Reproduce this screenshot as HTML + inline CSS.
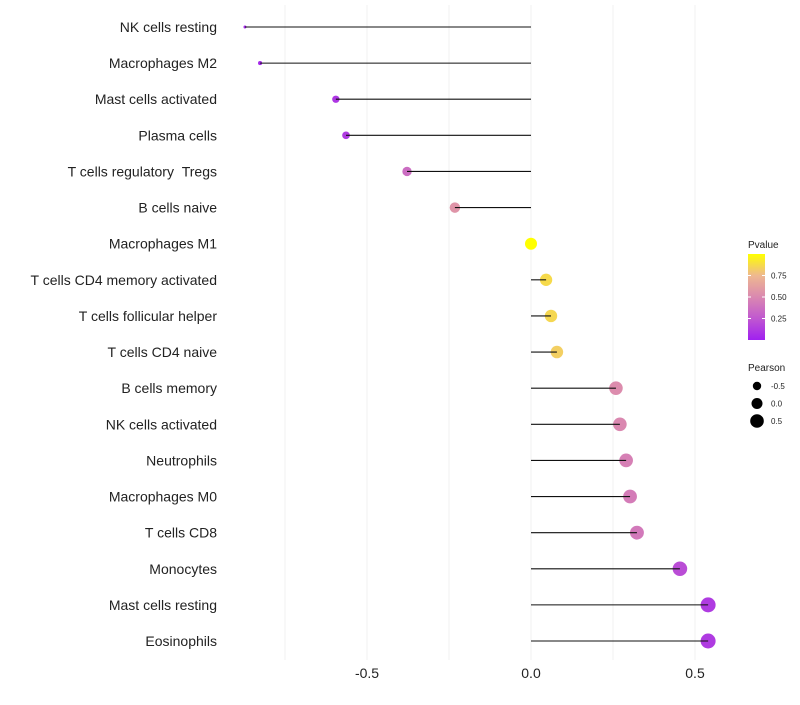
<!DOCTYPE html>
<html><head><meta charset="utf-8"><style>
body{margin:0;background:#fff;font-family:"Liberation Sans",sans-serif}
</style></head><body>
<svg id="c" width="800" height="700" xmlns="http://www.w3.org/2000/svg" font-family="Liberation Sans, sans-serif"></svg>
<script>
const categories=["NK cells resting","Macrophages M2","Mast cells activated","Plasma cells","T cells regulatory\u00a0\u00a0Tregs","B cells naive","Macrophages M1","T cells CD4 memory activated","T cells follicular helper","T cells CD4 naive","B cells memory","NK cells activated","Neutrophils","Macrophages M0","T cells CD8","Monocytes","Mast cells resting","Eosinophils"];
const pearson=[-0.872,-0.826,-0.595,-0.564,-0.378,-0.232,0.0,0.046,0.061,0.079,0.259,0.271,0.29,0.302,0.323,0.454,0.54,0.54];
const pvalue=[0.04,0.05,0.1,0.12,0.36,0.56,1.0,0.87,0.86,0.83,0.52,0.5,0.46,0.44,0.42,0.2,0.12,0.12];
const xTicks=[-0.5,0,0.5];
const xTickLabels=["-0.5","0.0","0.5"];
const gridVals=[-0.75,-0.5,-0.25,0,0.25,0.5];
const legendP=[0.25,0.5,0.75];
const legendSizes=[-0.5,0,0.5];
const legendSizeLabels=["-0.5","0.0","0.5"];
const NS="http://www.w3.org/2000/svg";
const svg=document.getElementById('c');
const xS=v=>531+v*328;
const yS=i=>27+i*(614/17);
const pMin=Math.min(...pearson),pMax=Math.max(...pearson);
const rS=v=>0.3+1.2*Math.sqrt(Math.max(1,1+35*(v-pMin)/(pMax-pMin)));
const stops=[[160,32,240],[192,88,208],[218,136,176],[238,184,144],[255,255,0]];
function col(p){p=Math.max(0,Math.min(1,p));const s=p*4,i=Math.min(3,Math.floor(s)),f=s-i;const a=stops[i],b=stops[i+1];return `rgb(${a.map((c,k)=>Math.round(c+(b[k]-c)*f)).join(',')})`;}
function mk(t,at,parent){const e=document.createElementNS(NS,t);for(const k in at)e.setAttribute(k,at[k]);(parent||svg).appendChild(e);return e;}
gridVals.forEach(v=>{const l=mk('line',{x1:xS(v),x2:xS(v),y1:5,y2:660,stroke:'#f0f0f0','stroke-width':1});

});
xTicks.forEach((v,i)=>{const t=mk('text',{x:xS(v),y:678,'text-anchor':'middle','font-size':14,fill:'#222'});t.textContent=xTickLabels[i];

});
categories.forEach((c,i)=>{const y=yS(i);
const t=mk('text',{x:217,y:y+5,'text-anchor':'end','font-size':14,fill:'#222'});t.textContent=c;


const d=mk('circle',{cx:xS(pearson[i]),cy:y,r:rS(pearson[i]),fill:col(pvalue[i])});


const l=mk('line',{x1:xS(0),x2:xS(pearson[i]),y1:y,y2:y,stroke:'#111','stroke-width':1.1});


});
const lt=mk('text',{x:748,y:248,'font-size':10,fill:'#222'});lt.textContent='Pvalue';


const defs=mk('defs',{});const g=mk('linearGradient',{id:'gr',x1:0,y1:1,x2:0,y2:0},defs);
stops.forEach((s,i)=>mk('stop',{offset:i/4,'stop-color':`rgb(${s.join(',')})`},g));
const bar=mk('rect',{x:748,y:254,width:17,height:86,fill:'url(#gr)'});


legendP.forEach(p=>{const y=340-p*86;mk('line',{x1:748,x2:751,y1:y,y2:y,stroke:'#fff'});mk('line',{x1:762,x2:765,y1:y,y2:y,stroke:'#fff'});
const t=mk('text',{x:771,y:y+3,'font-size':8,fill:'#222'});t.textContent=p.toFixed(2);

});
const st=mk('text',{x:748,y:371,'font-size':10,fill:'#222'});st.textContent='Pearson';


const legR=[4.2,5.5,6.8];
legendSizes.forEach((v,i)=>{const y=386+i*17.5;
const c=mk('circle',{cx:757,cy:y,r:legR[i],fill:'#000'});


const t=mk('text',{x:771,y:y+3,'font-size':8,fill:'#222'});t.textContent=legendSizeLabels[i];

});
</script>
</body></html>
